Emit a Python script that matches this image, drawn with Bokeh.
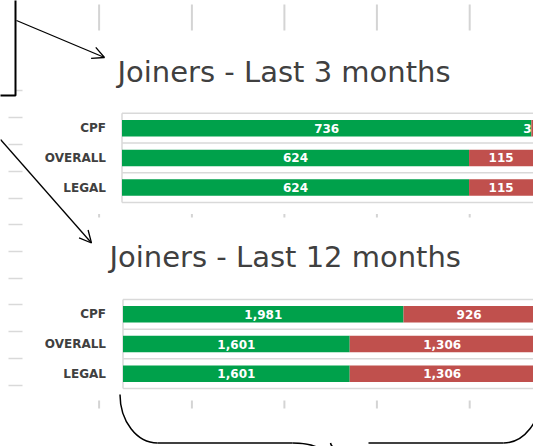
import numpy as np
from bokeh.plotting import figure
from bokeh.models import Range1d, Arrow, OpenHead, ColumnDataSource
from bokeh.core.properties import value
from bokeh.embed import file_html
from bokeh.resources import INLINE

# ---------------- data ----------------
categories = ["CPF", "OVERALL", "LEGAL"]
joiners_3m_green = [736, 624, 624]
joiners_3m_red = [3, 115, 115]
joiners_12m_green = [1981, 1601, 1601]
joiners_12m_red = [926, 1306, 1306]
title_3m = "Joiners - Last 3 months"
title_12m = "Joiners - Last 12 months"

# ---------------- styles / layout ----------------
GREEN = "#00A14B"
RED = "#C0504D"
TXT = "#404040"
GRID = "#d9d9d9"
FONT = "DejaVu Sans"

W, H = 533, 446
OFF = 0  # the main ranges are expressed in picture pixels

p = figure(width=W, height=H, output_backend="svg", toolbar_location=None,
           x_range=Range1d(OFF, OFF + W), y_range=Range1d(OFF + H, OFF),
           x_axis_location=None, y_axis_location=None, min_border=0,
           outline_line_color=None)
p.grid.visible = False
p.background_fill_color = "white"
p.border_fill_color = "white"


def x_scale(origin_px, px_per_unit):
    return Range1d((OFF - origin_px) / px_per_unit, (OFF + W - origin_px) / px_per_unit)


def y_scale(row0_px, step_px):
    return Range1d((OFF + H - row0_px) / step_px, (OFF - row0_px) / step_px)


scales = {"x3": (121.5, 0.5562), "x12": (122.5, 0.1416)}
p.extra_x_ranges = {k: x_scale(*v) for k, v in scales.items()}
p.extra_y_ranges = {"y3": y_scale(127.7, 29.7), "y12": y_scale(313.8, 29.7)}

# ---------------- background remnants (grid ticks of the sheet) ----------------
tick_xs = [98.6, 191.4, 283.9, 376.4, 469.2]
for (ya, yb) in [(4, 30), (213.5, 217), (400, 408)]:
    p.segment(x0=tick_xs, x1=tick_xs, y0=[ya] * 5, y1=[yb] * 5,
              line_color="#d4d4d4", line_width=2)
dash_ys = [90, 117, 144, 171, 198, 224, 251, 278, 304, 331, 358, 385]
p.segment(x0=[8] * len(dash_ys), x1=[22] * len(dash_ys), y0=dash_ys, y1=dash_ys,
          line_color=GRID, line_width=1.5)

# ---------------- box at the top left ----------------
p.quad(left=[-20], right=[15], top=[-20], bottom=[95], fill_color="white",
       line_color="black", line_width=2)

# ---------------- titles ----------------
p.text(x=[117], y=[71.5], text=[title_3m], text_font=value(FONT),
       text_font_size="29px", text_color=TXT, text_baseline="alphabetic",
       text_align="left")
p.text(x=[109], y=[256], text=[title_12m], text_font=value(FONT),
       text_font_size="29px", text_color=TXT, text_baseline="alphabetic",
       text_align="left")

# ---------------- bar panels ----------------
panels = [("x3", "y3", joiners_3m_green, joiners_3m_red),
          ("x12", "y12", joiners_12m_green, joiners_12m_red)]

for xr, yr, green, red in panels:
    g = np.array(green, dtype=float)
    r = np.array(red, dtype=float)
    idx = np.arange(len(categories), dtype=float)
    tot = g + r
    big = float(tot.max()) * 10
    # plot-area border and category separators
    bounds = np.arange(len(categories) + 1) - 0.5
    p.segment(x0=[0] * len(bounds), x1=[big] * len(bounds), y0=bounds, y1=bounds,
              line_color=GRID, line_width=1.5, x_range_name=xr, y_range_name=yr)
    p.segment(x0=[0], x1=[0], y0=[bounds[0]], y1=[bounds[-1]],
              line_color=GRID, line_width=1.5, x_range_name=xr, y_range_name=yr)

    # keep labels inside the visible frame (a label would otherwise be cut at the edge)
    origin, k = scales[xr]
    x_max_label = (OFF + W - 6 - origin) / k
    src = ColumnDataSource(dict(
        y=idx, g=g, tot=tot,
        gmid=g / 2, rmid=np.minimum(g + r / 2, x_max_label),
        glab=[f"{int(v):,}" for v in g], rlab=[f"{int(v):,}" for v in r],
        cat=categories,
    ))
    p.hbar(y="y", left=0, right="g", height=0.555, source=src,
           fill_color=GREEN, line_color=None, x_range_name=xr, y_range_name=yr)
    p.hbar(y="y", left="g", right="tot", height=0.555, source=src,
           fill_color=RED, line_color=None, x_range_name=xr, y_range_name=yr)
    for xcol, tcol in [("gmid", "glab"), ("rmid", "rlab")]:
        p.text(x=xcol, y="y", text=tcol, source=src, text_font=value(FONT),
               text_font_style="bold", text_font_size="12px", text_color="white",
               text_align="center", text_baseline="middle",
               x_range_name=xr, y_range_name=yr)
    # category labels (x in picture pixels, y on the panel's category scale)
    p.text(x=105.5, y="y", text="cat", source=src,
           text_font=value(FONT), text_font_style="bold", text_font_size="12px",
           text_color=TXT, text_align="right", text_baseline="middle",
           y_range_name=yr)

# ---------------- arrows ----------------
for (xs, ys, xe, ye) in [(16, 20, 104, 57), (0, 139, 91, 242.5)]:
    p.add_layout(Arrow(x_start=xs, y_start=ys, x_end=xe, y_end=ye,
                       line_color="black", line_width=1.3,
                       end=OpenHead(size=12, line_color="black", line_width=1.3)))

# ---------------- curly brace at the bottom ----------------
bz = dict(
    x0=[119.5, 292, 368, 503], y0=[394, 442.5, 462, 442.5],
    x1=[157, 330, 330, 540.5], y1=[442.5, 462, 442.5, 394],
    cx0=[119.5, 318, 342, 523.6], cy0=[420.7, 442.5, 442.5, 442.5],
    cx1=[136.4, 328, 332, 540.5], cy1=[442.5, 452, 452, 420.7],
)
p.bezier(**bz, line_color="black", line_width=1.5)
p.segment(x0=[157, 368], x1=[292, 503], y0=[442.5, 442.5], y1=[442.5, 442.5],
          line_color="black", line_width=1.5)

open("out.html", "w").write(file_html(p, INLINE))
